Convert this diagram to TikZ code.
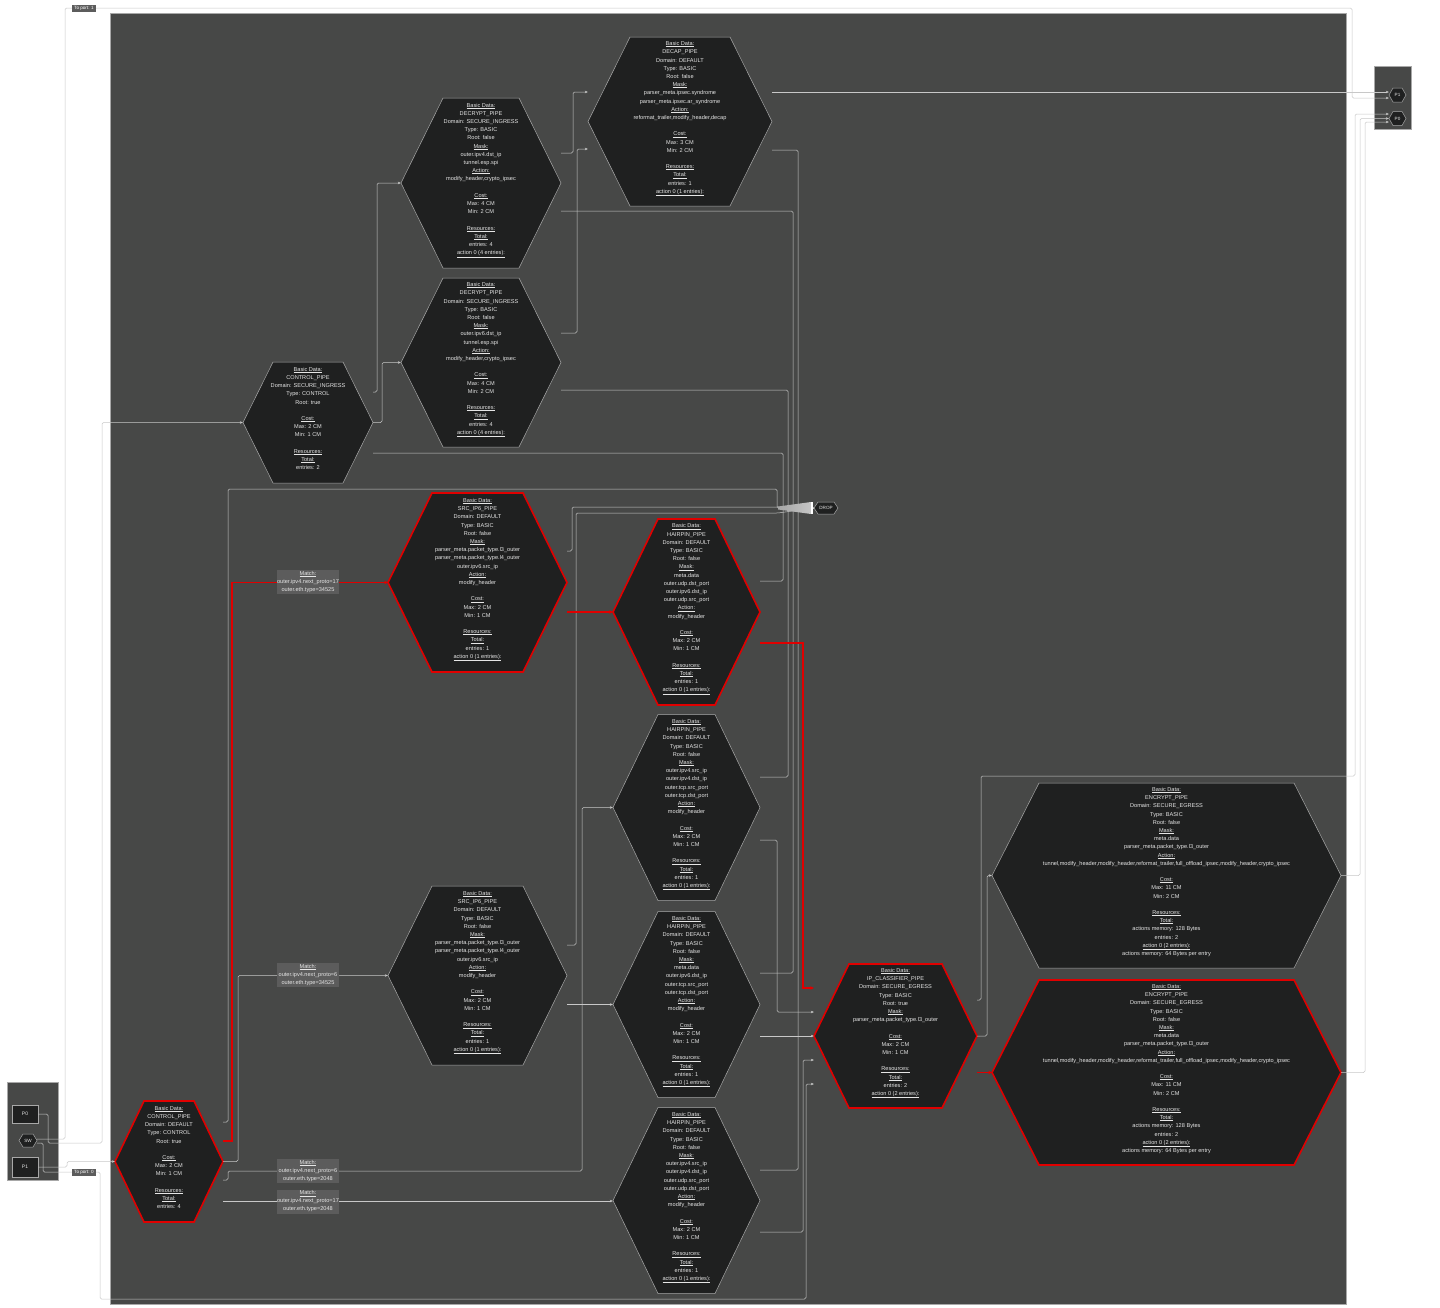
\documentclass[tikz,border=0pt]{standalone}
\usepackage{fontspec}
\setmainfont{Liberation Sans}
\usetikzlibrary{arrows.meta,calc}
\definecolor{panel}{HTML}{474847}
\definecolor{hexfill}{HTML}{1F2020}
\definecolor{hexline}{HTML}{A8A8A8}
\definecolor{txt}{HTML}{E6E6E6}
\definecolor{edgec}{HTML}{C8C8C8}
\definecolor{hot}{HTML}{E00000}
\definecolor{lab}{HTML}{5C5C5C}
\newcommand\ulx[1]{\leavevmode\vtop{\hbox{#1}\kern0.7pt\hrule height0.25pt}}
% name, cx, cy, half width, half height, slant, style, text
\newcommand\hexnode[8]{%
  \draw[#7] ({#2-#4},#3) -- ({#2-#4+#6},{#3-#5}) -- ({#2+#4-#6},{#3-#5}) -- ({#2+#4},#3)
     -- ({#2+#4-#6},{#3+#5}) -- ({#2-#4+#6},{#3+#5}) -- cycle;
  \node[hextext, minimum width={2*#4}, minimum height={2*#5}] (#1) at (#2,#3) {#8};}
\tikzset{
  hextext/.style={inner sep=0pt, text=txt, align=center, font=\fontsize{5.6}{8.2}\selectfont},
  hexn/.style={fill=hexfill, draw=hexline, line width=0.5pt},
  hexr/.style={fill=hexfill, draw=hot, line width=1.6pt},
  edge/.style={draw=edgec, line width=0.5pt, rounded corners=1.5pt, -{Stealth[length=3pt,width=2.6pt]}},
  dedge/.style={draw=edgec, line width=0.5pt, rounded corners=1.5pt},
  hotedge/.style={draw=hot, line width=1.6pt, -{Stealth[length=3.5pt,width=3.5pt]}},
  matchlab/.style={fill=lab, inner sep=0pt, text=txt, align=center, minimum width=62, minimum height=24, font=\fontsize{5.6}{8}\selectfont},
  portlab/.style={fill=lab, inner sep=0pt, text=white, minimum width=24, minimum height=7, font=\fontsize{4.6}{5}\selectfont},
  portbox/.style={fill=hexfill, draw=hexline, line width=0.5pt, inner sep=0pt, text=txt, font=\fontsize{5}{6}\selectfont},
  boxpanel/.style={fill=panel, draw=hexline, line width=0.4pt}
}
\begin{document}
\begin{tikzpicture}[x=1pt,y=-1pt]
\useasboundingbox (0,0) rectangle (1440,1307);
\fill[white] (0,0) rectangle (1440,1307);
% panels
\draw[boxpanel] (110,13) rectangle (1346,1304);
\draw[boxpanel] (7,1082) rectangle (58,1180);
\draw[boxpanel] (1374,66) rectangle (1411,129);

% ---------- pipes ----------
\hexnode{ctlS}{308}{422.5}{65}{60.5}{30}{hexn}{\ulx{Basic Data:}\\CONTROL\_PIPE\\Domain: SECURE\_INGRESS\\Type: CONTROL\\Root: true\\~\\\ulx{Cost:}\\Max: 2 CM\\Min: 1 CM\\~\\\ulx{Resources:}\\\ulx{Total:}\\entries: 2\\~}

\hexnode{dec1}{481}{183}{80}{85}{42}{hexn}{\ulx{Basic Data:}\\DECRYPT\_PIPE\\Domain: SECURE\_INGRESS\\Type: BASIC\\Root: false\\\ulx{Mask:}\\outer.ipv4.dst\_ip\\tunnel.esp.spi\\\ulx{Action:}\\modify\_header,crypto\_ipsec\\~\\\ulx{Cost:}\\Max: 4 CM\\Min: 2 CM\\~\\\ulx{Resources:}\\\ulx{Total:}\\entries: 4\\\ulx{action 0 (4 entries):}\\~}

\hexnode{dec2}{481}{362.5}{80}{84.5}{42}{hexn}{\ulx{Basic Data:}\\DECRYPT\_PIPE\\Domain: SECURE\_INGRESS\\Type: BASIC\\Root: false\\\ulx{Mask:}\\outer.ipv6.dst\_ip\\tunnel.esp.spi\\\ulx{Action:}\\modify\_header,crypto\_ipsec\\~\\\ulx{Cost:}\\Max: 4 CM\\Min: 2 CM\\~\\\ulx{Resources:}\\\ulx{Total:}\\entries: 4\\\ulx{action 0 (4 entries):}\\~}

\hexnode{decap}{680}{121.5}{92}{84.5}{42}{hexn}{\ulx{Basic Data:}\\DECAP\_PIPE\\Domain: DEFAULT\\Type: BASIC\\Root: false\\\ulx{Mask:}\\parser\_meta.ipsec.syndrome\\parser\_meta.ipsec.ar\_syndrome\\\ulx{Action:}\\reformat\_trailer,modify\_header,decap\\~\\\ulx{Cost:}\\Max: 3 CM\\Min: 2 CM\\~\\\ulx{Resources:}\\\ulx{Total:}\\entries: 1\\\ulx{action 0 (1 entries):}\\~}

\hexnode{src1}{477.5}{582.5}{89.5}{89.5}{44}{hexr}{\ulx{Basic Data:}\\SRC\_IP6\_PIPE\\Domain: DEFAULT\\Type: BASIC\\Root: false\\\ulx{Mask:}\\parser\_meta.packet\_type.l3\_outer\\parser\_meta.packet\_type.l4\_outer\\outer.ipv6.src\_ip\\\ulx{Action:}\\modify\_header\\~\\\ulx{Cost:}\\Max: 2 CM\\Min: 1 CM\\~\\\ulx{Resources:}\\\ulx{Total:}\\entries: 1\\\ulx{action 0 (1 entries):}\\~}

\hexnode{src2}{477.5}{975.5}{89.5}{89.5}{44}{hexn}{\ulx{Basic Data:}\\SRC\_IP6\_PIPE\\Domain: DEFAULT\\Type: BASIC\\Root: false\\\ulx{Mask:}\\parser\_meta.packet\_type.l3\_outer\\parser\_meta.packet\_type.l4\_outer\\outer.ipv6.src\_ip\\\ulx{Action:}\\modify\_header\\~\\\ulx{Cost:}\\Max: 2 CM\\Min: 1 CM\\~\\\ulx{Resources:}\\\ulx{Total:}\\entries: 1\\\ulx{action 0 (1 entries):}\\~}

\hexnode{hp1}{686.5}{612}{73.5}{93}{45}{hexr}{\ulx{Basic Data:}\\HAIRPIN\_PIPE\\Domain: DEFAULT\\Type: BASIC\\Root: false\\\ulx{Mask:}\\meta.data\\outer.udp.dst\_port\\outer.ipv6.dst\_ip\\outer.udp.src\_port\\\ulx{Action:}\\modify\_header\\~\\\ulx{Cost:}\\Max: 2 CM\\Min: 1 CM\\~\\\ulx{Resources:}\\\ulx{Total:}\\entries: 1\\\ulx{action 0 (1 entries):}\\~}

\hexnode{hp2}{686.5}{807.5}{73.5}{93}{45}{hexn}{\ulx{Basic Data:}\\HAIRPIN\_PIPE\\Domain: DEFAULT\\Type: BASIC\\Root: false\\\ulx{Mask:}\\outer.ipv4.src\_ip\\outer.ipv4.dst\_ip\\outer.tcp.src\_port\\outer.tcp.dst\_port\\\ulx{Action:}\\modify\_header\\~\\\ulx{Cost:}\\Max: 2 CM\\Min: 1 CM\\~\\\ulx{Resources:}\\\ulx{Total:}\\entries: 1\\\ulx{action 0 (1 entries):}\\~}

\hexnode{hp3}{686.5}{1004.5}{73.5}{93}{45}{hexn}{\ulx{Basic Data:}\\HAIRPIN\_PIPE\\Domain: DEFAULT\\Type: BASIC\\Root: false\\\ulx{Mask:}\\meta.data\\outer.ipv6.dst\_ip\\outer.tcp.src\_port\\outer.tcp.dst\_port\\\ulx{Action:}\\modify\_header\\~\\\ulx{Cost:}\\Max: 2 CM\\Min: 1 CM\\~\\\ulx{Resources:}\\\ulx{Total:}\\entries: 1\\\ulx{action 0 (1 entries):}\\~}

\hexnode{hp4}{686.5}{1200.5}{73.5}{93}{45}{hexn}{\ulx{Basic Data:}\\HAIRPIN\_PIPE\\Domain: DEFAULT\\Type: BASIC\\Root: false\\\ulx{Mask:}\\outer.ipv4.src\_ip\\outer.ipv4.dst\_ip\\outer.udp.src\_port\\outer.udp.dst\_port\\\ulx{Action:}\\modify\_header\\~\\\ulx{Cost:}\\Max: 2 CM\\Min: 1 CM\\~\\\ulx{Resources:}\\\ulx{Total:}\\entries: 1\\\ulx{action 0 (1 entries):}\\~}

\hexnode{ctl}{169}{1161.5}{54}{60.5}{29}{hexr}{\ulx{Basic Data:}\\CONTROL\_PIPE\\Domain: DEFAULT\\Type: CONTROL\\Root: true\\~\\\ulx{Cost:}\\Max: 2 CM\\Min: 1 CM\\~\\\ulx{Resources:}\\\ulx{Total:}\\entries: 4\\~}

\hexnode{ipc}{895.5}{1036}{81.5}{72}{35}{hexr}{\ulx{Basic Data:}\\IP\_CLASSIFIER\_PIPE\\Domain: SECURE\_EGRESS\\Type: BASIC\\Root: true\\\ulx{Mask:}\\parser\_meta.packet\_type.l3\_outer\\~\\\ulx{Cost:}\\Max: 2 CM\\Min: 1 CM\\~\\\ulx{Resources:}\\\ulx{Total:}\\entries: 2\\\ulx{action 0 (2 entries):}\\~}

\hexnode{enc1}{1166.5}{875.5}{174.5}{92.5}{47}{hexn}{\ulx{Basic Data:}\\ENCRYPT\_PIPE\\Domain: SECURE\_EGRESS\\Type: BASIC\\Root: false\\\ulx{Mask:}\\meta.data\\parser\_meta.packet\_type.l3\_outer\\\ulx{Action:}\\tunnel,modify\_header,modify\_header,reformat\_trailer,full\_offload\_ipsec,modify\_header,crypto\_ipsec\\~\\\ulx{Cost:}\\Max: 11 CM\\Min: 2 CM\\~\\\ulx{Resources:}\\\ulx{Total:}\\actions memory: 128 Bytes\\entries: 2\\\ulx{action 0 (2 entries):}\\actions memory: 64 Bytes per entry\\~}

\hexnode{enc2}{1166.5}{1072.5}{174.5}{92.5}{47}{hexr}{\ulx{Basic Data:}\\ENCRYPT\_PIPE\\Domain: SECURE\_EGRESS\\Type: BASIC\\Root: false\\\ulx{Mask:}\\meta.data\\parser\_meta.packet\_type.l3\_outer\\\ulx{Action:}\\tunnel,modify\_header,modify\_header,reformat\_trailer,full\_offload\_ipsec,modify\_header,crypto\_ipsec\\~\\\ulx{Cost:}\\Max: 11 CM\\Min: 2 CM\\~\\\ulx{Resources:}\\\ulx{Total:}\\actions memory: 128 Bytes\\entries: 2\\\ulx{action 0 (2 entries):}\\actions memory: 64 Bytes per entry\\~}

% small nodes
\hexnode{drop}{826}{508}{12}{6}{4}{hexn}{\fontsize{4.6}{5}\selectfont DROP}
\hexnode{sw}{28}{1140.5}{9}{6.5}{4}{hexn}{\fontsize{4.6}{5}\selectfont SW}
\hexnode{p1r}{1397.5}{95}{8.5}{7}{4}{hexn}{\fontsize{4.6}{5}\selectfont P1}
\hexnode{p0r}{1397.5}{118.5}{8.5}{7}{4}{hexn}{\fontsize{4.6}{5}\selectfont P0}
\node[portbox, minimum width=26, minimum height=18] (p0) at (25,1114) {P0};
\node[portbox, minimum width=26, minimum height=20] (p1) at (25,1167) {P1};

% ---------- connectors ----------
\draw[edge] (p0.east) -- (48,1114) -- (48,1143) -- (102,1143) -- (102,422.5) -- (ctlS.west);
\draw[edge] (p1.east) -- (67,1167) -- (67,1161.5) -- (ctl.west);
\draw[edge] (sw.east |- 0,1139) -- (65,1139) -- (65,8) -- (1352,8) -- (1352,98) -- (p1r.west |- 0,98);
\draw[edge] (sw.east |- 0,1143) -- (43,1143) -- (43,1172) -- (100,1172) -- (100,1299) -- (806,1299) -- (806,1084) -- (ipc.west |- 0,1084);

\draw[edge] (ctlS.east |- 0,392) -- (377,392) -- (377,183) -- (dec1.west);
\draw[edge] (ctlS.east) -- (382,422.5) -- (382,362.5) -- (dec2.west);
\draw[dedge] (ctlS.east |- 0,453) -- (783,453) -- (783,508) -- (drop.west);
\draw[edge] (dec1.east |- 0,153) -- (573,153) -- (573,92) -- (decap.west |- 0,92);
\draw[dedge] (dec1.east |- 0,211) -- (793,211) -- (793,508) -- (drop.west);
\draw[edge] (dec2.east |- 0,333) -- (577,333) -- (577,149) -- (decap.west |- 0,149);
\draw[dedge] (dec2.east |- 0,390) -- (788,390) -- (788,508) -- (drop.west);
\draw[edge] (decap.east |- 0,92) -- (p1r.west |- 0,92);
\draw[dedge] (decap.east |- 0,150) -- (798,150) -- (798,508) -- (drop.west);

\draw[dedge] (ctl.east |- 0,1122) -- (228,1122) -- (228,489) -- (777,489) -- (777,508) -- (drop.west);
\draw[edge] (ctl.east) -- (238,1161.5) -- (238,975.5) -- (src2.west);
\draw[edge] (ctl.east |- 0,1180) -- (228,1180) -- (228,1171) -- (582,1171) -- (582,807.5) -- (hp2.west);
\draw[edge] (ctl.east |- 0,1201) -- (hp4.west |- 0,1201);

\draw[dedge] (src1.east |- 0,551) -- (572,551) -- (572,507) -- (778,507) -- (drop.west);
\draw[dedge] (src2.east |- 0,945) -- (576,945) -- (576,513) -- (778,513) -- (drop.west);
\draw[edge] (src2.east |- 0,1004.5) -- (hp3.west);

\draw[dedge] (hp1.east |- 0,581) -- (783,581) -- (783,508) -- (drop.west);
\draw[dedge] (hp2.east |- 0,777) -- (788,777) -- (788,508) -- (drop.west);
\draw[edge] (hp2.east |- 0,840) -- (777,840) -- (777,1012) -- (ipc.west |- 0,1012);
\draw[dedge] (hp3.east |- 0,973) -- (793,973) -- (793,508) -- (drop.west);
\draw[edge] (hp3.east |- 0,1036) -- (ipc.west);
\draw[dedge] (hp4.east |- 0,1170) -- (798,1170) -- (798,508) -- (drop.west);
\draw[edge] (hp4.east |- 0,1232) -- (803,1232) -- (803,1060) -- (ipc.west |- 0,1060);

\draw[edge] (ipc.east |- 0,1000) -- (981,1000) -- (981,776) -- (1355,776) -- (1355,114) -- (p0r.west |- 0,114);
\draw[edge] (ipc.east) -- (987,1036) -- (987,875.5) -- (enc1.west);
\draw[edge] (enc1.east) -- (1360,875.5) -- (1360,118.5) -- (p0r.west);
\draw[edge] (enc2.east) -- (1365,1072.5) -- (1365,122) -- (p0r.west |- 0,122);

% highlighted path
\draw[hotedge] (ctl.east |- 0,1141) -- (232,1141) -- (232,582.5) -- (src1.west);
\draw[hotedge] (src1.east |- 0,612) -- (hp1.west);
\draw[hotedge] (hp1.east |- 0,643) -- (803,643) -- (803,988) -- (ipc.west |- 0,988);
\draw[hotedge] (ipc.east |- 0,1072.5) -- (enc2.west);

% drop funnel (merged arrowheads)
\shade[left color=gray!70, right color=gray!45] (778,506.5) -- (811,502) -- (811,514) -- (778,509.5) -- cycle;
\fill[white] (811,502) rectangle (813,514);

% labels
\node[matchlab] (m1) at (308,582) {\ulx{Match:}\\outer.ipv4.next\_proto=17\\outer.eth.type=34525};
\node[matchlab] (m2) at (308,975) {\ulx{Match:}\\outer.ipv4.next\_proto=6\\outer.eth.type=34525};
\node[matchlab] (m3) at (308,1171) {\ulx{Match:}\\outer.ipv4.next\_proto=6\\outer.eth.type=2048};
\node[matchlab] (m4) at (308,1201.5) {\ulx{Match:}\\outer.ipv4.next\_proto=17\\outer.eth.type=2048};
\node[portlab] (tp1) at (84,8) {To port: 1};
\node[portlab] (tp0) at (84,1172) {To port: 0};
\end{tikzpicture}
\end{document}
